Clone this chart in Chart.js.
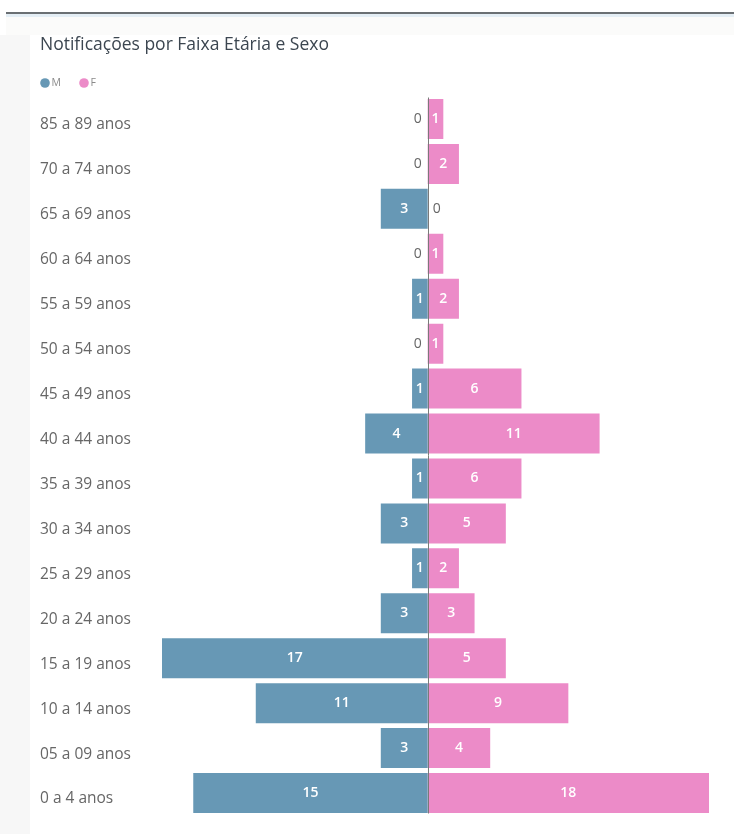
<!DOCTYPE html>
<html><head><meta charset="utf-8">
<script src="https://cdn.jsdelivr.net/npm/chart.js@4"></script>
<style>
html,body{margin:0;padding:0;background:#fff;}
#wrap{position:relative;width:734px;height:834px;}
canvas{position:absolute;left:0;top:0;}
</style></head><body>
<div id="wrap"><canvas id="c" width="734" height="834"></canvas></div>
<script>
const categories = ["85 a 89 anos","70 a 74 anos","65 a 69 anos","60 a 64 anos","55 a 59 anos","50 a 54 anos","45 a 49 anos","40 a 44 anos","35 a 39 anos","30 a 34 anos","25 a 29 anos","20 a 24 anos","15 a 19 anos","10 a 14 anos","05 a 09 anos","0 a 4 anos"];
const maleValues = [0,0,3,0,1,0,1,4,1,3,1,3,17,11,3,15];
const femaleValues = [1,2,0,1,2,1,6,11,6,5,2,3,5,9,4,18];
const seriesNames = ["M","F"];
const titleText = "Notificações por Faixa Etária e Sexo";

const FONT = "'Open Sans', 'Noto Sans', sans-serif";
const M_COLOR = '#6798B5';
const F_COLOR = '#EC8BC8';

const bgPlugin = {
  id:'bg',
  beforeDraw(chart){
    const ctx = chart.ctx;
    ctx.save();
    ctx.fillStyle='#ffffff';
    ctx.fillRect(0,0,chart.width,chart.height);
    ctx.fillStyle='#fbfbfa';
    ctx.fillRect(6,15,chart.width-6,20);
    ctx.fillStyle='#e4eef5';
    ctx.fillRect(6,14,chart.width-6,3);
    ctx.fillStyle='#6a6f73';
    ctx.fillRect(6,12,chart.width-6,2);
    ctx.fillStyle='#f7f7f7';
    ctx.fillRect(0,35,30,chart.height-35);
    ctx.restore();
  }
};

const customLegend = {
  id:'customLegend',
  afterDraw(chart){
    const ctx = chart.ctx;
    const y = 83;
    const xs = [45, 84];
    ctx.save();
    ctx.font = "400 10.5px "+FONT;
    ctx.textBaseline='middle';
    ctx.textAlign='left';
    chart.data.datasets.forEach((ds,i)=>{
      ctx.fillStyle = ds.backgroundColor;
      ctx.beginPath();
      ctx.arc(xs[i], y, 4.8, 0, Math.PI*2);
      ctx.fill();
      ctx.fillStyle = '#8a8a8a';
      ctx.fillText(ds.label, xs[i]+6.5, y+0.5);
    });
    ctx.restore();
  }
};

const centerLine = {
  id:'centerLine',
  afterDatasetsDraw(chart){
    const ctx = chart.ctx, x = chart.scales.x.getPixelForValue(0), a = chart.chartArea;
    ctx.save();
    ctx.strokeStyle='#7a7a7a';
    ctx.lineWidth=1;
    ctx.beginPath();
    ctx.moveTo(Math.round(x)+0.5,a.top+1);
    ctx.lineTo(Math.round(x)+0.5,a.bottom-2);
    ctx.stroke();
    ctx.restore();
  }
};

const valueLabels = {
  id:'valueLabels',
  afterDraw(chart){
    const ctx = chart.ctx;
    const x0 = chart.scales.x.getPixelForValue(0);
    ctx.save();
    ctx.textBaseline='middle';
    chart.data.datasets.forEach((ds,di)=>{
      const meta = chart.getDatasetMeta(di);
      meta.data.forEach((el,i)=>{
        const v = Math.abs(ds.data[i]);
        if (v===0){
          ctx.font = "400 14px "+FONT;
          ctx.fillStyle='#666';
          if (di===0){ ctx.textAlign='right'; ctx.fillText('0', x0-6, el.y); }
          else { ctx.textAlign='left'; ctx.fillText('0', x0+5, el.y); }
        } else {
          ctx.font = "600 14px "+FONT;
          ctx.fillStyle='#ffffff';
          ctx.textAlign='center';
          ctx.fillText(String(v), (el.x+x0)/2, el.y);
        }
      });
    });
    ctx.restore();
  }
};

new Chart(document.getElementById('c'),{
  type:'bar',
  data:{
    labels:categories,
    datasets:[
      {label:seriesNames[0], data:maleValues.map(v=>-v), backgroundColor:M_COLOR, borderWidth:0},
      {label:seriesNames[1], data:femaleValues, backgroundColor:F_COLOR, borderWidth:0}
    ]
  },
  options:{
    indexAxis:'y',
    responsive:false,
    animation:false,
    devicePixelRatio:1,
    layout:{padding:{left:40,top:35,right:25,bottom:18.5}},
    datasets:{bar:{categoryPercentage:1,barPercentage:0.89}},
    scales:{
      x:{stacked:true,min:-17,max:18,display:false},
      y:{stacked:true,
         grid:{display:false},border:{display:false},
         afterFit(s){s.width=122;},
         ticks:{crossAlign:'far',color:'#666',padding:0,labelOffset:6,font:{family:FONT,size:15.5}}}
    },
    plugins:{
      tooltip:{enabled:false},
      title:{display:true,text:titleText,align:'start',color:'#3c4650',
             font:{family:FONT,size:17.5,weight:'normal',lineHeight:1.2},padding:{top:0,bottom:40.5}},
      legend:{display:false}
    }
  },
  plugins:[bgPlugin,centerLine,valueLabels,customLegend]
});
</script>
</body></html>
